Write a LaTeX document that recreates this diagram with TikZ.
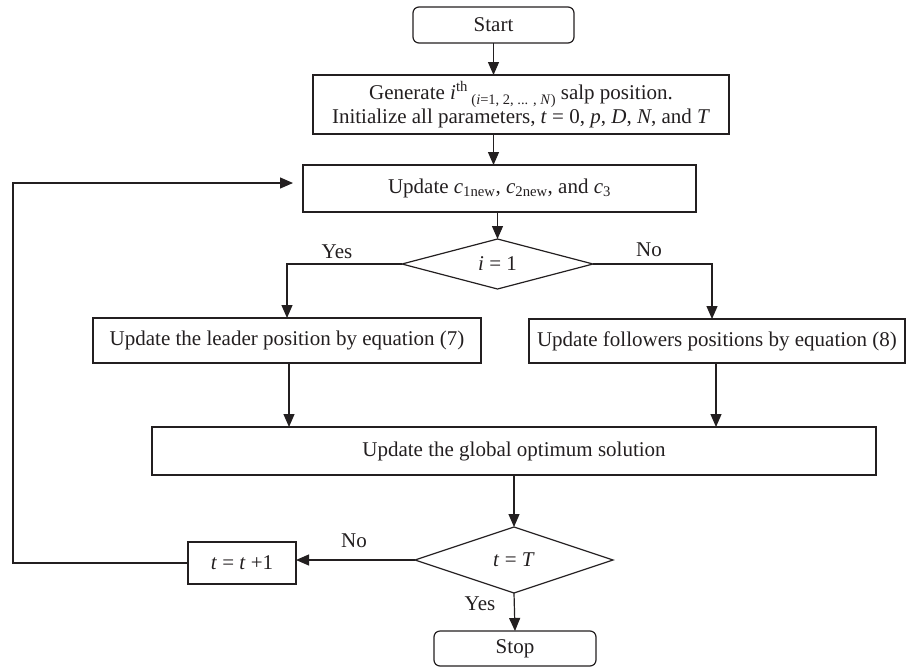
\documentclass[tikz,border=0pt]{standalone}
\usepackage{fontspec}
\setmainfont{Liberation Serif}
\usetikzlibrary{shapes.geometric,arrows.meta}
\definecolor{ink}{HTML}{231F20}
\begin{document}
\begin{tikzpicture}[x=1pt,y=-1pt,
  box/.style={draw=ink, line width=1.2pt, inner sep=0pt, outer sep=0pt, align=center, text=ink, font=\fontsize{21}{24}\selectfont},
  rbox/.style={box, rounded corners=6pt},
  dec/.style={box, diamond, aspect=3},
  lbl/.style={text=ink, inner sep=0pt, font=\fontsize{21}{24}\selectfont},
  arr/.style={draw=ink, line width=1.2pt, -{Triangle[length=13pt,width=11pt]}}]
\useasboundingbox (0,0) rectangle (910,667);

\node[rbox, minimum width=161pt, minimum height=36pt] (start) at (493.5,25) {Start};
\node[box, minimum width=416pt, minimum height=59pt] (gen) at (521,104.5)
  {Generate \textit{i}\textsuperscript{th}\,{\fontsize{14.5}{16}\selectfont\raisebox{-5pt}{(\textit{i}=1, 2, ... , \textit{N})}} salp position.\\
   Initialize all parameters, \textit{t} = 0, \textit{p}, \textit{D}, \textit{N}, and \textit{T}};
\node[box, minimum width=393pt, minimum height=47pt] (upd) at (499.5,188.5)
  {Update \textit{c}\textsubscript{1new}, \textit{c}\textsubscript{2new}, and \textit{c}\textsubscript{3}};
\node[dec, minimum width=191pt, minimum height=50pt] (d1) at (497.5,264) {\textit{i} = 1};
\node[box, minimum width=388pt, minimum height=45pt] (lead) at (287,340.5) {Update the leader position by equation (7)};
\node[box, minimum width=376pt, minimum height=44pt] (foll) at (717,341) {Update followers positions by equation (8)};
\node[box, minimum width=724pt, minimum height=48pt] (glob) at (514,451) {Update the global optimum solution};
\node[dec, minimum width=198pt, minimum height=66pt] (d2) at (514,560) {\textit{t} = \textit{T}};
\node[box, minimum width=108pt, minimum height=42pt] (inc) at (242,563) {\textit{t} = \textit{t} +1};
\node[rbox, minimum width=162pt, minimum height=35pt] (stop) at (515,648.5) {Stop};

\node[lbl] (yes1) at (337,252) {Yes};
\node[lbl] (no1) at (649,250) {No};
\node[lbl] (no2) at (354,541) {No};
\node[lbl] (yes2) at (480,604) {Yes};

\coordinate (fbend) at (293,183);

\draw[arr] (start.south) -- (start.south |- gen.north);
\draw[arr] (start.south |- gen.south) -- (start.south |- upd.north);
\draw[arr] (upd.south -| d1.north) -- (d1.north);
\draw[arr] (d1.west) -| (lead.north);
\draw[arr] (d1.east) -| ([xshift=-5pt]foll.north);
\draw[arr] ([xshift=2pt]lead.south) -- ([xshift=2pt]lead.south |- glob.north);
\draw[arr] ([xshift=-1pt]foll.south) -- ([xshift=-1pt]foll.south |- glob.north);
\draw[arr] (glob.south -| d2.north) -- (d2.north);
\draw[arr] (d2.south) -- (stop.north);
\draw[arr] (d2.west) -- (d2.west -| inc.east);
\draw[arr] (inc.west) -| (13,183) -- (fbend);
\end{tikzpicture}
\end{document}
